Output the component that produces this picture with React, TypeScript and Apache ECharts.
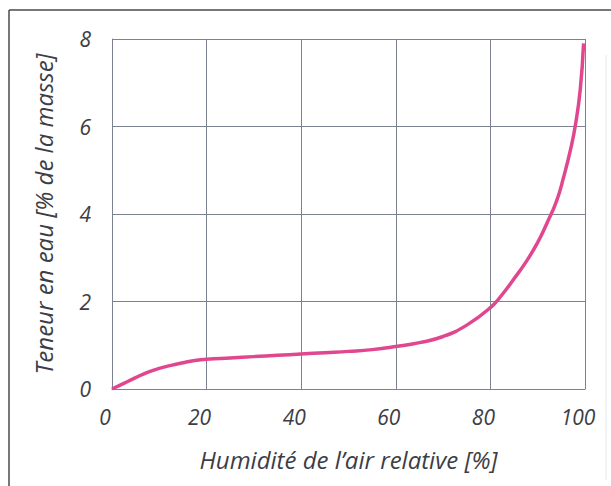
import React, { useEffect, useRef } from "react";
import * as echarts from "echarts";

const humidity = [0, 2.5, 5, 7.5, 10, 12.5, 15, 17.5, 20, 25, 30, 35, 40, 45, 50, 55, 60, 65, 70, 75, 80, 82.5, 85, 87.5, 90, 92, 94, 95.5, 97, 98, 99, 99.7];
const waterContent = [0, 0.13, 0.26, 0.38, 0.47, 0.54, 0.6, 0.65, 0.68, 0.71, 0.74, 0.77, 0.8, 0.83, 0.86, 0.9, 0.97, 1.06, 1.2, 1.46, 1.86, 2.16, 2.52, 2.9, 3.35, 3.8, 4.3, 4.85, 5.5, 6.05, 6.85, 7.9];
const xTicks = [0, 20, 40, 60, 80, 100];
const yTicks = [0, 2, 4, 6, 8];

const FONT = "'Open Sans', 'Noto Sans', sans-serif";
const TEXT = "#3d3d45";
const GRID = "#7d8291";

export default function App() {
  const ref = useRef<HTMLDivElement>(null);
  useEffect(() => {
    if (!ref.current) return;
    const chart = echarts.init(ref.current, undefined, { renderer: "svg" });
    const data = humidity.map((h, i) => [h, waterContent[i]]);
    chart.setOption({
      animation: false,
      backgroundColor: "#ffffff",
      grid: { left: 112, top: 39, right: 26, bottom: 97 },
      xAxis: {
        type: "value",
        min: xTicks[0],
        max: xTicks[xTicks.length - 1],
        interval: 20,
        name: "Humidité de l’air relative [%]",
        nameLocation: "middle",
        nameGap: 58,
        nameTextStyle: { fontFamily: FONT, fontStyle: "italic", fontSize: 24, color: TEXT },
        axisLine: { show: true, lineStyle: { color: GRID, width: 1 } },
        axisTick: { show: false },
        axisLabel: { fontFamily: FONT, fontStyle: "italic", fontSize: 21, color: TEXT, margin: 17, padding: [0, 14, 0, 0] },
        splitLine: { show: true, lineStyle: { color: GRID, width: 1 } },
      },
      yAxis: {
        type: "value",
        min: yTicks[0],
        max: yTicks[yTicks.length - 1],
        interval: 2,
        name: "Teneur en eau [% de la masse]",
        nameLocation: "middle",
        nameGap: 57,
        nameTextStyle: { fontFamily: FONT, fontStyle: "italic", fontSize: 24, color: TEXT },
        axisLine: { show: true, lineStyle: { color: GRID, width: 1 } },
        axisTick: { show: false },
        axisLabel: { fontFamily: FONT, fontStyle: "italic", fontSize: 21, color: TEXT, margin: 21 },
        splitLine: { show: true, lineStyle: { color: GRID, width: 1 } },
      },
      series: [
        {
          type: "line",
          data,
          smooth: 0.5,
          showSymbol: false,
          lineStyle: { color: "#e0478f", width: 3.5 },
        },
      ],
      graphic: [
        { type: "line", shape: { x1: 9, y1: 10, x2: 611, y2: 10 }, style: { stroke: "#4a4a4a", lineWidth: 1.5 } },
        { type: "line", shape: { x1: 9, y1: 10, x2: 9, y2: 486 }, style: { stroke: "#4a4a4a", lineWidth: 1.5 } },
        { type: "line", shape: { x1: 606, y1: 55, x2: 606, y2: 480 }, style: { stroke: "#e6e8ee", lineWidth: 1 } },
      ],
    });
    return () => chart.dispose();
  }, []);
  return <div ref={ref} style={{ position: "absolute", left: 0, top: 0, width: 611, height: 486 }} />;
}
